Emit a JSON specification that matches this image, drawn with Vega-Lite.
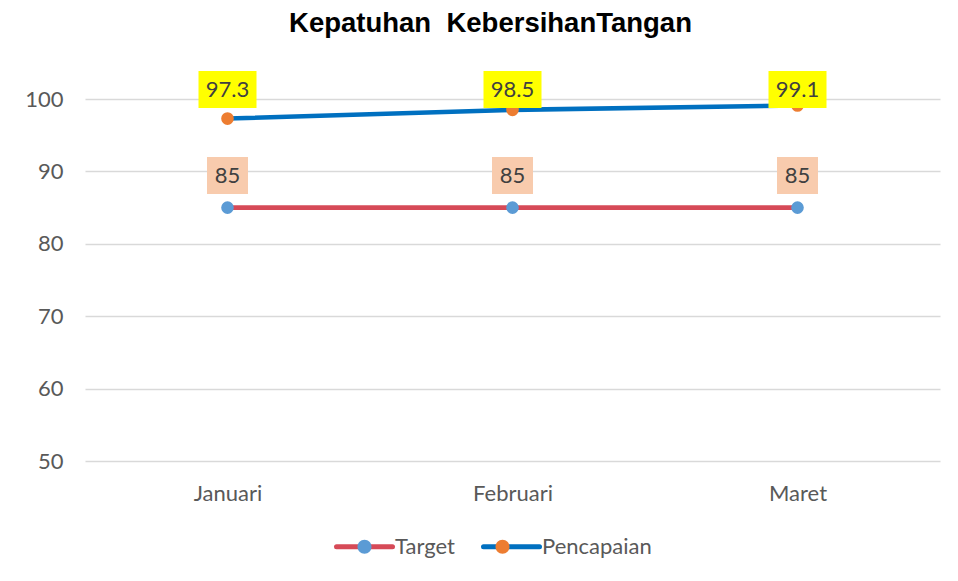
{
  "$schema": "https://vega.github.io/schema/vega-lite/v6.json",
  "width": 855,
  "height": 362,
  "autosize": {"type": "none"},
  "padding": {"left": 85, "top": 99, "right": 18, "bottom": 120},
  "background": "white",
  "title": {
    "text": "Kepatuhan\u00a0 KebersihanTangan",
    "font": "Liberation Sans",
    "fontSize": 27.5,
    "fontWeight": "bold",
    "color": "#000000",
    "anchor": "middle",
    "dx": -22,
    "offset": 34
  },
  "config": {"view": {"stroke": null}, "font": "Lato"},
  "data": {
    "values": [
      {"month": "Januari", "series": "Target", "value": 85},
      {"month": "Februari", "series": "Target", "value": 85},
      {"month": "Maret", "series": "Target", "value": 85},
      {"month": "Januari", "series": "Pencapaian", "value": 97.3},
      {"month": "Februari", "series": "Pencapaian", "value": 98.5},
      {"month": "Maret", "series": "Pencapaian", "value": 99.1}
    ]
  },
  "encoding": {
    "x": {
      "field": "month",
      "type": "nominal",
      "sort": ["Januari", "Februari", "Maret"],
      "scale": {"type": "point", "padding": 0.5},
      "axis": {
        "title": null,
        "labelAngle": 0,
        "labelFont": "Lato",
        "labelFontSize": 22,
        "labelColor": "#595959",
        "ticks": false,
        "domain": false,
        "grid": false,
        "labelPadding": 22
      }
    }
  },
  "layer": [
    {
      "mark": {"type": "line", "strokeWidth": 4.6},
      "encoding": {
        "y": {
          "field": "value",
          "type": "quantitative",
          "scale": {"domain": [50, 100], "nice": false, "zero": false},
          "axis": {
            "title": null,
            "values": [50, 60, 70, 80, 90, 100],
            "labelFont": "Lato",
            "labelFontSize": 22,
            "labelColor": "#595959",
            "ticks": false,
            "domain": false,
            "labelPadding": 22,
            "gridColor": "#D9D9D9",
            "gridWidth": 1.3
          }
        },
        "stroke": {
          "field": "series",
          "type": "nominal",
          "scale": {"domain": ["Target", "Pencapaian"], "range": ["#D64A57", "#0070C0"]},
          "legend": {
            "orient": "none",
            "legendX": 249,
            "legendY": 417,
            "direction": "horizontal",
            "title": null,
            "symbolType": "M-1,0H1",
            "symbolSize": 3136,
            "symbolStrokeWidth": 5,
            "labelFont": "Lato",
            "labelFontSize": 22,
            "labelColor": "#595959",
            "labelOffset": 0,
            "columnPadding": 18,
            "encode": {"symbols": {"update": {"strokeCap": {"value": "round"}}}}
          }
        }
      }
    },
    {
      "mark": {"type": "point", "filled": true, "size": 160, "opacity": 1, "strokeWidth": 0},
      "encoding": {
        "y": {"field": "value", "type": "quantitative"},
        "fill": {
          "field": "series",
          "type": "nominal",
          "scale": {"domain": ["Pencapaian", "Target"], "range": ["#ED7D31", "#5B9BD5"]},
          "legend": {
            "orient": "none",
            "legendX": 249,
            "legendY": 417,
            "direction": "horizontal",
            "title": null,
            "values": ["Target", "Pencapaian"],
            "symbolType": "M-0.25,0A0.25,0.25 0 1,0 0.25,0A0.25,0.25 0 1,0 -0.25,0Z",
            "symbolSize": 3136,
            "symbolStrokeWidth": 5,
            "labelExpr": "''",
            "labelFont": "Lato",
            "labelFontSize": 22,
            "labelOffset": 0,
            "columnPadding": 77
          }
        }
      }
    },
    {
      "transform": [{"filter": "datum.series === 'Target'"}],
      "mark": {"type": "rect", "width": 41, "height": 37, "yOffset": -32, "color": "#F8CBAD"},
      "encoding": {"y": {"field": "value", "type": "quantitative"}}
    },
    {
      "transform": [{"filter": "datum.series === 'Target'"}],
      "mark": {"type": "text", "font": "Lato", "fontSize": 22, "color": "#404040", "baseline": "middle", "yOffset": -32},
      "encoding": {"y": {"field": "value", "type": "quantitative"}, "text": {"field": "value", "type": "quantitative"}}
    },
    {
      "transform": [{"filter": "datum.series === 'Pencapaian'"}],
      "mark": {"type": "rect", "width": 58, "height": 37, "color": "#FFFF00"},
      "encoding": {"y": {"datum": 101.3, "type": "quantitative"}}
    },
    {
      "transform": [{"filter": "datum.series === 'Pencapaian'"}],
      "mark": {"type": "text", "font": "Lato", "fontSize": 22, "color": "#404040", "baseline": "middle"},
      "encoding": {"y": {"datum": 101.3, "type": "quantitative"}, "text": {"field": "value", "type": "quantitative"}}
    }
  ]
}
